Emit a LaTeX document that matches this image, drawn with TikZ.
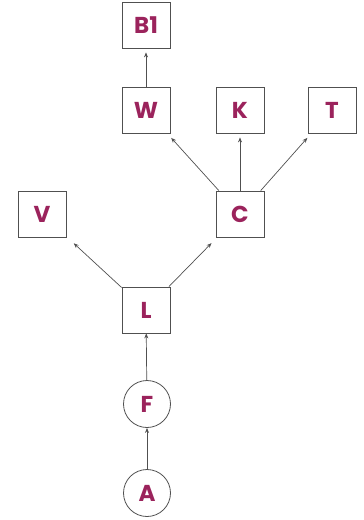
\documentclass[tikz,border=0pt]{standalone}
\usepackage{fontspec}
\setmainfont{Poppins}
\usetikzlibrary{arrows.meta}
\definecolor{lbl}{RGB}{155,35,92}
\definecolor{edge}{RGB}{80,80,80}
\begin{document}
\begin{tikzpicture}[x=1pt,y=-1pt,
  sq/.style={draw=edge,line width=0.8pt,minimum width=48pt,minimum height=46pt,inner sep=0pt,
    font=\fontsize{23}{23}\selectfont\bfseries,text=lbl},
  rnd/.style={draw=edge,line width=0.8pt,circle,minimum size=47pt,inner sep=0pt,
    font=\fontsize{23}{23}\selectfont\bfseries,text=lbl},
  conn/.style={draw=edge,line width=0.7pt,-{Stealth[length=5pt,width=4pt]}}]
\useasboundingbox (0,0) rectangle (364,520);
\node[sq] (B1) at (146,25) {B1};
\node[sq] (W) at (146,110) {W};
\node[sq] (K) at (240,110) {K};
\node[sq] (T) at (332,110) {T};
\node[sq] (V) at (42,214) {V};
\node[sq] (C) at (240,214) {C};
\node[sq] (L) at (146,310) {L};
\node[rnd] (F) at (147,404) {F};
\node[rnd] (A) at (147,493) {A};
\draw[conn] (A) -- (F);
\draw[conn] (F) -- (L);
\draw[conn,shorten >=10pt] (L) -- (V);
\draw[conn,shorten >=8pt] (L) -- (C);
\draw[conn,shorten >=6pt] (C) -- (W);
\draw[conn,shorten >=4pt] (C) -- (K);
\draw[conn,shorten >=6pt] (C) -- (T);
\draw[conn,shorten >=4pt] (W) -- (B1);
\end{tikzpicture}
\end{document}
